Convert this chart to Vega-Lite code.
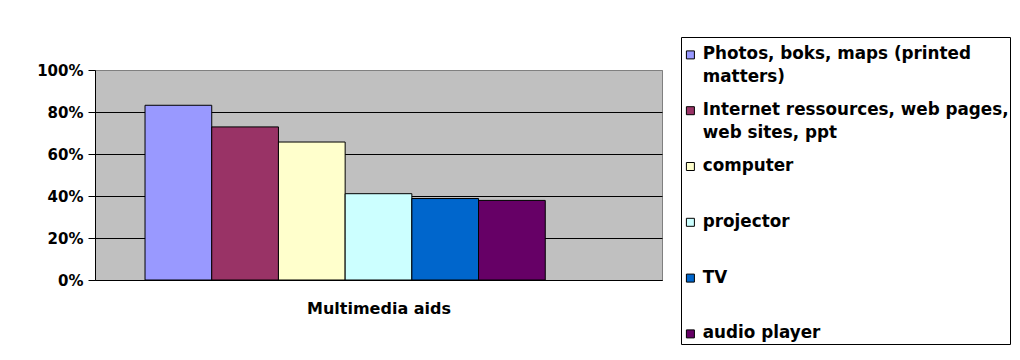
{
  "$schema": "https://vega.github.io/schema/vega-lite/v6.json",
  "width": 567,
  "height": 210,
  "autosize": {"type": "none"},
  "padding": {"left": 95, "top": 70, "right": 358, "bottom": 80},
  "background": "white",
  "data": {
    "values": [
      {"aid": "Photos, boks, maps (printed matters)", "share": 0.832},
      {"aid": "Internet ressources, web pages, web sites, ppt", "share": 0.729},
      {"aid": "computer", "share": 0.657},
      {"aid": "projector", "share": 0.411},
      {"aid": "TV", "share": 0.388},
      {"aid": "audio player", "share": 0.379}
    ]
  },
  "mark": {"type": "bar", "stroke": "black", "strokeWidth": 1},
  "encoding": {
    "x": {
      "field": "aid",
      "type": "nominal",
      "sort": null,
      "scale": {
        "domain": [
          "Photos, boks, maps (printed matters)",
          "Internet ressources, web pages, web sites, ppt",
          "computer",
          "projector",
          "TV",
          "audio player",
          " "
        ],
        "paddingInner": 0,
        "paddingOuter": 0.75,
        "align": 0.5
      },
      "axis": {
        "title": "Multimedia aids",
        "labels": false,
        "ticks": false,
        "domain": true,
        "domainColor": "black",
        "grid": false,
        "titleFont": "DejaVu Sans",
        "titleFontSize": 16,
        "titleFontWeight": "bold",
        "titleColor": "black",
        "titlePadding": 20
      }
    },
    "y": {
      "field": "share",
      "type": "quantitative",
      "scale": {"domain": [0, 1]},
      "axis": {
        "title": null,
        "values": [0, 0.2, 0.4, 0.6, 0.8, 1],
        "format": ".0%",
        "labelFont": "DejaVu Sans",
        "labelFontSize": 15,
        "labelFontWeight": "bold",
        "labelColor": "black",
        "labelPadding": 5,
        "tickColor": "black",
        "tickSize": 7,
        "domainColor": "black",
        "grid": true,
        "gridColor": {"condition": {"test": "datum.value >= 1", "value": "#808080"}, "value": "black"},
        "gridOpacity": 1
      }
    },
    "color": {
      "field": "aid",
      "type": "nominal",
      "sort": null,
      "scale": {
        "domain": [
          "Photos, boks, maps (printed matters)",
          "Internet ressources, web pages, web sites, ppt",
          "computer",
          "projector",
          "TV",
          "audio player"
        ],
        "range": ["#9999FF", "#993366", "#FFFFCC", "#CCFFFF", "#0066CC", "#660066"]
      },
      "legend": {
        "title": null,
        "orient": "none",
        "legendX": 586,
        "legendY": -33,
        "strokeColor": "black",
        "fillColor": "white",
        "padding": 1,
        "symbolType": "M-1,1.125H1V3.125H-1Z",
        "symbolSize": 64,
        "symbolOffset": 0,
        "symbolStrokeColor": "black",
        "symbolStrokeWidth": 1,
        "labelFont": "DejaVu Sans",
        "labelFontSize": 16.8,
        "labelFontWeight": "bold",
        "labelColor": "black",
        "labelLimit": 600,
        "labelOffset": 4,
        "labelBaseline": "top",
        "rowPadding": 6.8,
        "gridAlign": "each",
        "labelExpr": "datum.label == 'Photos, boks, maps (printed matters)' ? ['Photos, boks, maps (printed', 'matters)'] : datum.label == 'Internet ressources, web pages, web sites, ppt' ? ['Internet ressources, web pages,', 'web sites, ppt'] : datum.label == 'audio player' ? datum.label : [datum.label, '']"
      }
    }
  },
  "config": {
    "view": {"fill": "#C0C0C0", "stroke": "#808080"},
    "style": {"guide-label": {"lineHeight": 23}}
  }
}
